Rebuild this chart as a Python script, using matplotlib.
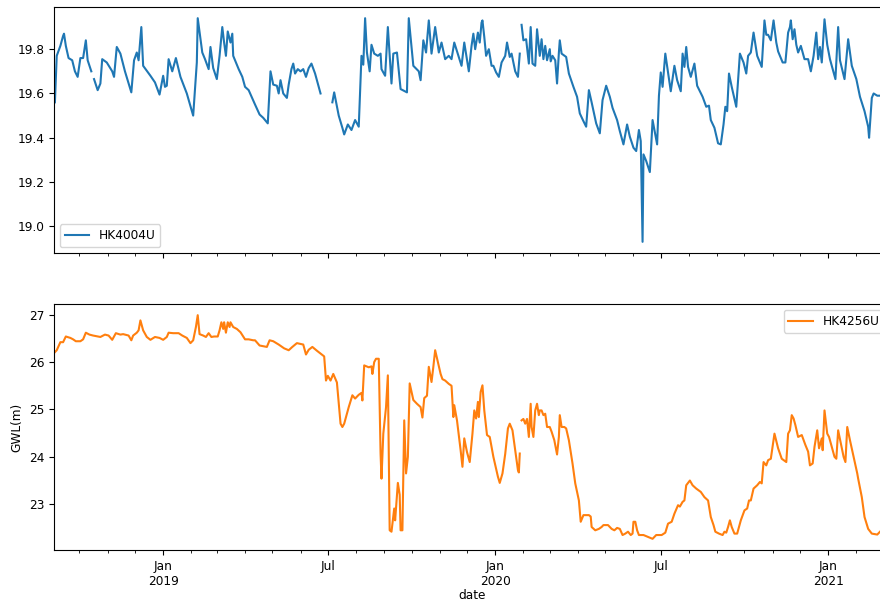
import numpy as np
import pandas as pd
import matplotlib
matplotlib.use("Agg")
import matplotlib.pyplot as plt
import matplotlib.dates as mdates

plt.rcParams['font.size'] = 8.7

# dates are stored as day offsets from 2018-09-01
start = pd.Timestamp('2018-09-01')

hk4004_days = [3, 5, 9, 12, 13, 15, 18, 22, 25, 28, 31, 34, 37, 39, 43, 45, 46, 50, 53, 55,
               60, 66, 68, 71, 75, 80, 87, 90, 93, 95, 98, 100, 108, 113, 118, 122, 124, 126, 128, 132,
               136, 141, 148, 155, 159, 160, 165, 168, 172, 174, 177, 181, 184, 187, 189, 191, 193, 196, 198, 199,
               205, 209, 212, 216, 223, 228, 232, 237, 240, 243, 247, 249, 251, 254, 258, 260, 263, 265, 267, 270,
               273, 276, 279, 282, 285, 289, 295, 296, 308, 310, 315, 319, 321, 325, 329, 333, 337, 340, 342, 344,
               346, 349, 351, 354, 358, 361, 362, 366, 369, 373, 375, 379, 383, 390, 392, 397, 403, 405, 408, 411,
               414, 417, 421, 425, 428, 432, 436, 439, 442, 447, 450, 453, 458, 461, 463, 465, 468, 470, 472, 473,
               475, 477, 480, 483, 485, 488, 491, 494, 498, 500, 503, 505, 509, 512, 514, 515, 516, 518, 521, 524,
               526, 528, 531, 533, 536, 538, 540, 542, 544, 547, 548, 550, 553, 555, 557, 558, 560, 565, 568, 573,
               577, 580, 584, 587, 590, 593, 598, 602, 605, 609, 613, 616, 621, 624, 628, 632, 635, 639, 642, 645,
               647, 649, 650, 653, 657, 660, 665, 667, 669, 671, 674, 677, 680, 684, 687, 691, 693, 695, 697, 699,
               702, 706, 709, 715, 719, 722, 724, 728, 732, 735, 738, 740, 742, 744, 747, 752, 756, 760, 763, 765,
               768, 771, 775, 780, 783, 785, 787, 790, 793, 796, 798, 803, 806, 809, 811, 812, 814, 816, 818, 820,
               823, 827, 831, 834, 837, 840, 842, 844, 846, 849, 852, 855, 861, 864, 866, 871, 875, 879, 884, 888,
               893, 897, 898, 901, 903, 907, 910]
hk4004_vals = [19.56, 19.77, 19.815, 19.86, 19.87, 19.815, 19.76, 19.75, 19.70, 19.675, 19.76, 19.76, 19.84, 19.75, 19.70, np.nan, 19.665, 19.615, 19.645, 19.755,
               19.74, 19.70, 19.675, 19.81, 19.78, 19.70, 19.605, 19.75, 19.785, 19.75, 19.90, 19.725, 19.68, 19.65, 19.595, 19.68, 19.63, 19.635, 19.755, 19.70,
               19.76, 19.675, 19.60, 19.50, 19.74, 19.94, 19.785, 19.755, 19.71, 19.81, 19.715, 19.665, 19.77, 19.90, 19.83, 19.77, 19.88, 19.83, 19.87, 19.77,
               19.71, 19.675, 19.63, 19.615, 19.55, 19.505, 19.49, 19.465, 19.70, 19.64, 19.635, 19.60, 19.66, 19.60, 19.58, 19.64, 19.71, 19.735, 19.69, 19.71,
               19.70, 19.71, 19.675, 19.715, 19.735, 19.69, 19.60, np.nan, 19.56, 19.605, 19.50, 19.445, 19.415, 19.46, 19.435, 19.48, 19.45, 19.77, 19.73, 19.94,
               19.785, 19.70, 19.82, 19.78, 19.77, 19.78, 19.71, 19.68, 19.90, 19.645, 19.78, 19.785, 19.62, 19.605, 19.94, 19.725, 19.70, 19.66, 19.84, 19.785,
               19.93, 19.78, 19.90, 19.785, 19.83, 19.755, 19.77, 19.755, 19.83, 19.765, 19.725, 19.83, 19.70, 19.815, 19.87, 19.80, 19.875, 19.83, 19.92, 19.93,
               19.855, 19.77, 19.80, 19.725, 19.725, 19.695, 19.675, 19.74, 19.77, 19.83, 19.765, 19.78, 19.70, 19.675, 19.78, np.nan, 19.91, 19.84, 19.845, 19.735,
               19.90, 19.735, 19.725, 19.89, 19.77, 19.845, 19.755, 19.815, 19.75, 19.80, 19.745, 19.77, 19.75, 19.645, 19.785, 19.84, 19.78, 19.765, 19.69, 19.63,
               19.585, 19.51, 19.475, 19.45, 19.615, 19.56, 19.465, 19.42, 19.57, 19.635, 19.585, 19.535, 19.48, 19.43, 19.37, 19.46, 19.405, 19.355, 19.34, 19.435,
               19.385, 18.93, 19.325, 19.295, 19.245, 19.48, 19.37, 19.59, 19.695, 19.63, 19.78, 19.695, 19.61, 19.725, 19.66, 19.61, 19.78, 19.72, 19.81, 19.72,
               19.675, 19.735, 19.635, 19.585, 19.54, 19.545, 19.48, 19.445, 19.375, 19.37, 19.46, 19.54, 19.52, 19.69, 19.63, 19.54, 19.78, 19.74, 19.69, 19.77,
               19.785, 19.875, 19.77, 19.72, 19.93, 19.865, 19.865, 19.84, 19.93, 19.83, 19.79, 19.74, 19.74, 19.875, 19.90, 19.93, 19.845, 19.89, 19.82, 19.785,
               19.815, 19.755, 19.755, 19.70, 19.77, 19.875, 19.755, 19.81, 19.74, 19.935, 19.82, 19.755, 19.665, 19.90, 19.75, 19.665, 19.845, 19.725, 19.665, 19.585,
               19.52, 19.45, 19.40, 19.58, 19.60, 19.59, 19.59]

hk4256_days = [3, 5, 9, 12, 15, 20, 23, 26, 31, 34, 37, 41, 45, 53, 58, 62, 66, 70, 75, 78,
               84, 87, 89, 93, 95, 97, 100, 104, 108, 113, 118, 122, 126, 128, 133, 139, 143, 148, 152, 155,
               158, 160, 162, 166, 169, 172, 175, 178, 182, 184, 186, 188, 189, 191, 193, 195, 196, 199, 203, 207,
               212, 216, 221, 223, 228, 236, 239, 243, 249, 255, 260, 264, 269, 276, 279, 282, 286, 291, 299, 301,
               303, 306, 309, 313, 317, 319, 321, 326, 330, 333, 337, 340, 341, 343, 348, 351, 352, 354, 356, 359,
               361, 362, 364, 367, 369, 371, 373, 376, 377, 380, 382, 383, 385, 387, 389, 391, 393, 397, 401, 405,
               407, 409, 412, 414, 417, 419, 421, 424, 427, 429, 432, 436, 439, 441, 442, 445, 449, 451, 453, 456,
               459, 462, 464, 466, 468, 469, 471, 473, 475, 478, 481, 485, 490, 492, 495, 498, 501, 503, 506, 509,
               512, 513, 514, 515, 516, 518, 520, 522, 524, 526, 527, 529, 531, 533, 535, 536, 538, 540, 542, 544,
               547, 549, 552, 555, 557, 558, 560, 563, 565, 568, 572, 575, 579, 581, 584, 586, 590, 592, 593, 597,
               601, 604, 606, 611, 615, 618, 621, 624, 627, 630, 633, 636, 638, 639, 641, 643, 645, 650, 655, 660,
               664, 670, 674, 677, 681, 684, 688, 690, 693, 695, 697, 701, 704, 708, 713, 717, 721, 724, 727, 729,
               733, 737, 739, 741, 743, 745, 747, 750, 753, 757, 761, 764, 766, 768, 771, 775, 778, 780, 782, 785,
               787, 790, 794, 798, 802, 807, 809, 811, 813, 815, 817, 820, 824, 828, 831, 833, 836, 838, 841, 843,
               846, 847, 849, 852, 854, 857, 860, 862, 864, 867, 870, 872, 874, 877, 881, 885, 886, 890, 893, 897,
               901, 907, 910]
hk4256_vals = [26.21, 26.25, 26.42, 26.42, 26.54, 26.51, 26.48, 26.44, 26.44, 26.48, 26.62, 26.58, 26.56, 26.53, 26.58, 26.56, 26.47, 26.61, 26.58, 26.59,
               26.56, 26.46, 26.56, 26.62, 26.67, 26.88, 26.67, 26.53, 26.47, 26.53, 26.51, 26.47, 26.53, 26.62, 26.61, 26.61, 26.56, 26.51, 26.40, 26.46,
               26.74, 26.99, 26.59, 26.56, 26.53, 26.61, 26.53, 26.54, 26.54, 26.67, 26.84, 26.70, 26.84, 26.62, 26.84, 26.74, 26.84, 26.74, 26.70, 26.63,
               26.48, 26.48, 26.46, 26.46, 26.35, 26.32, 26.46, 26.44, 26.37, 26.29, 26.25, 26.32, 26.40, 26.37, 26.16, 26.26, 26.32, 26.24, 26.12, 25.61,
               25.71, 25.61, 25.75, 25.57, 24.70, 24.63, 24.70, 25.05, 25.30, 25.23, 25.31, 25.35, 25.19, 25.93, 25.89, 25.91, 25.75, 26.00, 26.07, 26.07,
               24.07, 23.54, 24.49, 25.05, 25.72, 22.45, 22.42, 22.91, 22.66, 23.45, 23.20, 22.45, 22.45, 24.77, 23.65, 24.00, 25.55, 25.20, 25.12, 25.05,
               24.83, 25.24, 25.29, 25.90, 25.58, 25.90, 26.25, 26.00, 25.75, 25.64, 25.61, 25.54, 25.50, 24.84, 25.09, 24.77, 24.14, 23.79, 24.39, 24.10,
               23.89, 24.49, 24.98, 24.81, 25.16, 24.84, 25.37, 25.51, 24.98, 24.46, 24.42, 24.00, 23.58, 23.45, 23.65, 24.06, 24.60, 24.70, 24.56, 24.14,
               23.72, 23.67, 24.07, np.nan, 24.77, 24.80, 24.70, 24.80, 24.42, 25.12, 24.63, 24.42, 24.98, 25.12, 24.88, 24.98, 24.98, 24.88, 24.91, 24.63,
               24.63, 24.53, 24.35, 24.05, 24.42, 24.88, 24.63, 24.63, 24.60, 24.35, 23.86, 23.44, 23.08, 22.63, 22.77, 22.77, 22.77, 22.74, 22.52, 22.45,
               22.48, 22.52, 22.56, 22.56, 22.48, 22.45, 22.50, 22.48, 22.35, 22.38, 22.42, 22.35, 22.38, 22.63, 22.63, 22.45, 22.35, 22.35, 22.31, 22.27,
               22.35, 22.35, 22.40, 22.59, 22.63, 22.80, 22.98, 22.95, 23.05, 23.08, 23.40, 23.50, 23.40, 23.33, 23.26, 23.15, 23.08, 22.73, 22.56, 22.42,
               22.38, 22.35, 22.42, 22.40, 22.52, 22.66, 22.52, 22.38, 22.38, 22.66, 22.87, 22.91, 23.08, 23.08, 23.33, 23.40, 23.47, 23.44, 23.89, 23.82,
               23.93, 23.96, 24.49, 24.18, 23.96, 23.89, 24.49, 24.56, 24.88, 24.81, 24.67, 24.42, 24.46, 24.25, 24.11, 23.82, 23.86, 24.21, 24.56, 24.18,
               24.39, 24.14, 24.98, 24.49, 24.42, 24.21, 24.00, 23.96, 24.56, 24.28, 24.00, 23.89, 24.63, 24.35, 24.00, 23.65, 23.54, 23.15, 22.73, 22.48,
               22.38, 22.36, 22.42]

top_dates = start + pd.to_timedelta(hk4004_days, unit='D')
bot_dates = start + pd.to_timedelta(hk4256_days, unit='D')

fig, (ax1, ax2) = plt.subplots(2, 1, sharex=True, figsize=(8.8, 6.04), dpi=100)
ax1.set_position([54 / 880, 0.5811, 836 / 880, 0.4073])
ax2.set_position([54 / 880, 0.0894, 836 / 880, 0.4073])

ax1.plot(top_dates, hk4004_vals, color='#1f77b4', label='HK4004U')
ax2.plot(bot_dates, hk4256_vals, color='#ff7f0e', label='HK4256U')

ax2.set_xlim(start + pd.Timedelta(days=2), pd.Timestamp('2021-03-10'))


def fmt(x, pos):
    d = mdates.num2date(x)
    if d.month == 1:
        return d.strftime('%b') + '\n' + str(d.year)
    return d.strftime('%b')


for ax in (ax1, ax2):
    ax.xaxis.set_major_locator(mdates.MonthLocator(bymonth=[1, 7]))
    ax.xaxis.set_minor_locator(mdates.MonthLocator())
    ax.xaxis.set_major_formatter(plt.FuncFormatter(fmt))
    ax.xaxis.set_minor_formatter(plt.NullFormatter())
plt.setp(ax2.get_xticklabels(), ha='center', rotation=0)
ax1.tick_params(labelbottom=False)

ax1.legend(loc='lower left')
ax2.legend(loc='upper right')
ax2.set_xlabel('date', labelpad=1)
ax2.set_ylabel('GWL(m)')

fig.savefig('out.png', dpi=100)
